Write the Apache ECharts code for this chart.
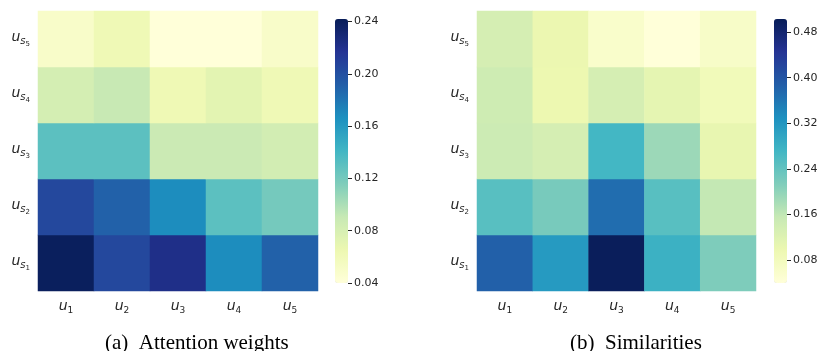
<!DOCTYPE html>
<html>
<head>
<meta charset="utf-8">
<script src="https://cdn.jsdelivr.net/npm/echarts@6/dist/echarts.min.js"></script>
<style>
  html, body { margin: 0; padding: 0; background: #fff; }
  #chart { width: 827px; height: 351px; }
</style>
</head>
<body>
<div id="chart"></div>
<script>
// categories
const colNames = ['1', '2', '3', '4', '5']
const rowNames = ['1', '2', '3', '4', '5'] // s1 (bottom) .. s5 (top)

// attention weights, rows s1..s5, columns u1..u5
const attention = [
  [0.240, 0.205, 0.222, 0.168, 0.190],
  [0.205, 0.190, 0.168, 0.130, 0.120],
  [0.130, 0.130, 0.088, 0.088, 0.083],
  [0.082, 0.090, 0.063, 0.072, 0.062],
  [0.050, 0.062, 0.040, 0.040, 0.050]
]

// similarities, rows s1..s5, columns u1..u5
const similarity = [
  [0.385, 0.315, 0.500, 0.280, 0.215],
  [0.250, 0.220, 0.370, 0.250, 0.158],
  [0.148, 0.135, 0.270, 0.190, 0.105],
  [0.145, 0.098, 0.135, 0.110, 0.085],
  [0.135, 0.100, 0.060, 0.040, 0.065]
]

// colour ranges and colorbar tick steps
const rangeA = [0.04, 0.242]
const rangeB = [0.04, 0.503]
const stepA = 0.04
const stepB = 0.08

const captions = ['(a)  Attention weights', '(b)  Similarities']

const ylgnbu = ['#ffffd9', '#edf8b1', '#c7e9b4', '#7fcdbb', '#41b6c4', '#1d91c0', '#225ea8', '#253494', '#081d58']
const txt = '#262626'

function toCells(m) {
  const out = []
  m.forEach((row, r) => row.forEach((v, c) => out.push([c, r, v])))
  return out
}

const xRich = {
  u: { fontFamily: 'DejaVu Sans', fontStyle: 'italic', fontSize: 14, color: txt, verticalAlign: 'top', padding: [0, 0, 0, 0] },
  d: { fontFamily: 'DejaVu Sans', fontSize: 9, color: txt, verticalAlign: 'top', padding: [7, 0, 0, 0] }
}
const yRich = {
  u: { fontFamily: 'DejaVu Sans', fontStyle: 'italic', fontSize: 14, color: txt, verticalAlign: 'top', padding: [0, 0, 0, 0] },
  s: { fontFamily: 'DejaVu Sans', fontStyle: 'italic', fontSize: 10, color: txt, verticalAlign: 'top', padding: [6, 0, 0, 0] },
  d: { fontFamily: 'DejaVu Sans', fontSize: 7, color: txt, verticalAlign: 'top', padding: [11, 0, 0, 0] }
}

// colorbar B axis starts at 0 so that its 0.08 ticks line up; extend the grid below the bar
const barTop = 19, barH = 264
const extB = barH * (rangeB[0] - 0) / (rangeB[1] - rangeB[0])

const grids = [
  { left: 38, top: 11, width: 280, height: 280 },
  { left: 477, top: 11, width: 279, height: 280 },
  { left: 335, top: barTop, width: 13, height: barH },
  { left: 774, top: barTop, width: 13, height: barH + extB }
]

function heatX(i) {
  return {
    gridIndex: i, type: 'category', data: colNames,
    axisLine: { show: false }, axisTick: { show: false }, splitLine: { show: false },
    axisLabel: { interval: 0, margin: 8, formatter: v => '{u|u}{d|' + v + '}', rich: xRich }
  }
}
function heatY(i) {
  return {
    gridIndex: i, type: 'category', data: rowNames,
    axisLine: { show: false }, axisTick: { show: false }, splitLine: { show: false },
    axisLabel: { interval: 0, margin: 8, formatter: v => '{u|u}{s|s}{d|' + v + '}', rich: yRich }
  }
}
function barX(i) {
  return { gridIndex: i, type: 'value', show: false }
}
function barY(i, min, max, step) {
  return {
    gridIndex: i, type: 'value', position: 'right', min: min, max: max, interval: step,
    axisLine: { show: false, onZero: false }, splitLine: { show: false },
    axisTick: { show: true, length: 4, lineStyle: { color: txt, width: 1 } },
    axisLabel: {
      margin: 6, color: txt, fontFamily: 'DejaVu Sans', fontSize: 11,
      showMaxLabel: false,
      formatter: v => (v < rangeB[0] - 1e-9 ? '' : v.toFixed(2))
    }
  }
}

const option = {
  backgroundColor: '#fff',
  animation: false,
  grid: grids,
  xAxis: [heatX(0), heatX(1), barX(2), barX(3)],
  yAxis: [heatY(0), heatY(1), barY(2, rangeA[0], rangeA[1], stepA), barY(3, 0, rangeB[1], stepB)],
  visualMap: [
    {
      type: 'continuous', seriesIndex: 0, min: rangeA[0], max: rangeA[1],
      calculable: false, text: null, showLabel: false, padding: 0,
      left: 335, top: barTop, itemWidth: 13, itemHeight: barH, orient: 'vertical',
      inRange: { color: ylgnbu }
    },
    {
      type: 'continuous', seriesIndex: 1, min: rangeB[0], max: rangeB[1],
      calculable: false, text: null, showLabel: false, padding: 0,
      left: 774, top: barTop, itemWidth: 13, itemHeight: barH, orient: 'vertical',
      inRange: { color: ylgnbu }
    }
  ],
  graphic: [
    { type: 'text', left: 105, top: 333, style: { text: captions[0], font: '21px "Liberation Serif"', fill: '#000' } },
    { type: 'text', left: 570, top: 333, style: { text: captions[1], font: '21px "Liberation Serif"', fill: '#000' } },
    // hide the unused 0 tick under colorbar B
    { type: 'rect', left: 772, top: barTop + barH + extB - 4, z: 100, shape: { width: 24, height: 8 }, style: { fill: '#fff' } }
  ],
  series: [
    { type: 'heatmap', xAxisIndex: 0, yAxisIndex: 0, data: toCells(attention), itemStyle: { borderWidth: 0 }, emphasis: { disabled: true } },
    { type: 'heatmap', xAxisIndex: 1, yAxisIndex: 1, data: toCells(similarity), itemStyle: { borderWidth: 0 }, emphasis: { disabled: true } }
  ]
}

const myChart = echarts.init(document.getElementById('chart'))
myChart.setOption(option)
</script>
</body>
</html>
